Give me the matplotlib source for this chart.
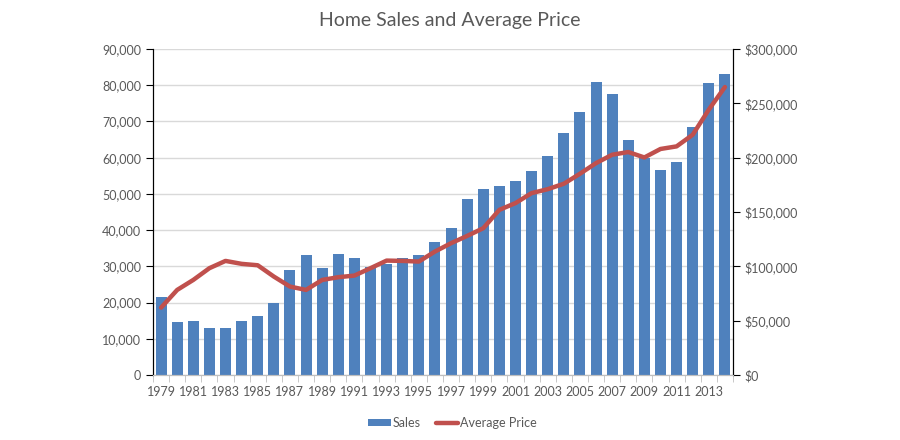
import matplotlib
matplotlib.use('Agg')
import matplotlib.pyplot as plt
from matplotlib.ticker import FuncFormatter, MultipleLocator
import numpy as np

plt.rcParams['font.family'] = ['Lato', 'DejaVu Sans']

years = list(range(1979, 2015))
sales = [21400, 14600, 14900, 13000, 13000, 14900, 16300, 19900, 29000, 33100,
         29600, 33400, 32300, 29800, 30700, 32300, 33100, 36700, 40600, 48600,
         51400, 52200, 53600, 56400, 60500, 66900, 72700, 80900, 77600, 64900,
         59900, 56600, 58800, 68500, 80700, 83100]
avg_price = [62000, 78300, 87500, 98300, 105000, 102300, 101000, 90600, 81400, 78300,
             87500, 90000, 91500, 98300, 105300, 105000, 104400, 113600, 121300, 128000,
             135100, 152000, 158200, 167400, 171000, 176000, 185200, 195000, 202700, 205200,
             200200, 208000, 210400, 221100, 244200, 265000]

grey = '#595959'
x = np.arange(len(years))

fig = plt.figure(figsize=(9, 4.4), dpi=100)
ax = fig.add_axes([0.17, 0.1477, 0.6444, 0.7409])
ax2 = ax.twinx()

bars = ax.bar(x, sales, width=0.68, color='#4f81bd', zorder=2, label='Sales')
line, = ax2.plot(x, avg_price, color='#c0504d', lw=3.2, solid_joinstyle='round',
                 solid_capstyle='round', label='Average Price')

ax.set_xlim(-0.5, len(years) - 0.5)
ax.set_ylim(0, 90000)
ax2.set_ylim(0, 300000)
ax.yaxis.set_major_locator(MultipleLocator(10000))
ax2.yaxis.set_major_locator(MultipleLocator(50000))
ax.yaxis.set_major_formatter(FuncFormatter(lambda v, p: f'{int(v):,}'))
ax2.yaxis.set_major_formatter(FuncFormatter(lambda v, p: f'${int(v):,}'))
ax.grid(axis='y', color='#d9d9d9', lw=1, zorder=0)
ax.set_axisbelow(True)

# x labels every other year, ticks at category boundaries
ax.set_xticks(x[::2])
ax.set_xticklabels([str(y) for y in years[::2]])
ax.set_xticks(np.arange(-0.5, len(years), 1), minor=True)
ax.tick_params(axis='x', which='major', length=0, colors=grey, labelsize=9, pad=8)
ax.tick_params(axis='x', which='minor', length=5, color='#bfbfbf')
ax.tick_params(axis='y', length=5, color='black', colors=grey, labelsize=9)
ax2.tick_params(axis='y', length=5, color='black', colors=grey, labelsize=9)

for a in (ax, ax2):
    a.spines['top'].set_visible(False)
    a.spines['bottom'].set_color('#bfbfbf')
    a.spines['left'].set_color('black')
    a.spines['right'].set_color('black')
for t in ax.get_yticklabels() + ax2.get_yticklabels() + ax.get_xticklabels():
    t.set_color(grey)

fig.suptitle('Home Sales and Average Price', y=0.972, fontsize=14, color=grey)

fig.legend([bars, line], ['Sales', 'Average Price'], loc='lower center',
           bbox_to_anchor=(0.503, 0.0), ncol=2, frameon=False, fontsize=9,
           labelcolor=grey, handlelength=1.8, handleheight=0.5,
           handletextpad=0.15, columnspacing=1.2)

fig.savefig('out.png', dpi=100)
